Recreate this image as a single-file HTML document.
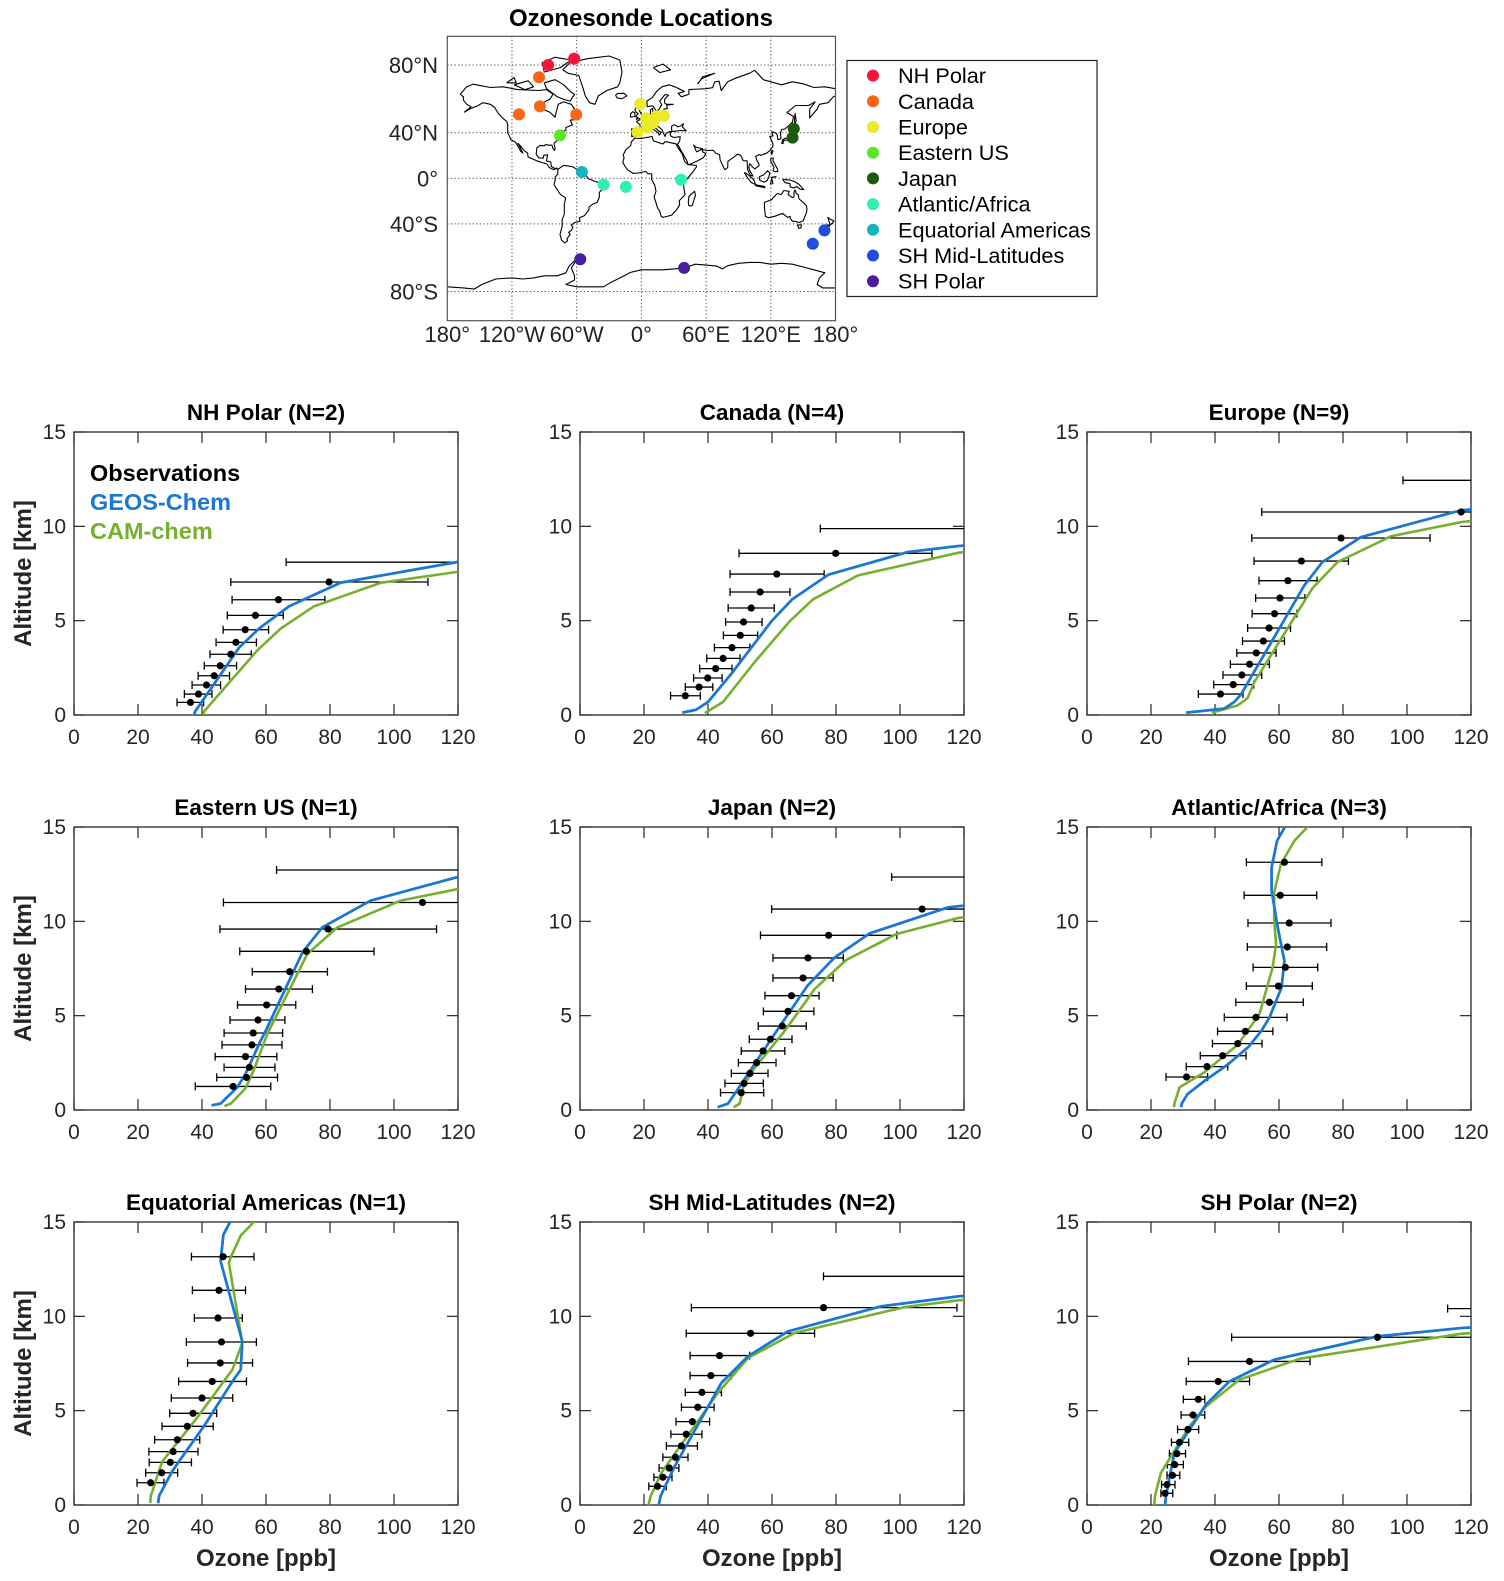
<!DOCTYPE html>
<html><head><meta charset="utf-8">
<style>
html,body{margin:0;padding:0;background:#fff;}
svg{display:block;font-family:"Liberation Sans",Arial,sans-serif;}
</style></head>
<body>
<svg id="fig" width="1504" height="1581" viewBox="0 0 1504 1581" xmlns="http://www.w3.org/2000/svg"></svg>
<script>
// ===== Map data =====
const regionNames = ["NH Polar","Canada","Europe","Eastern US","Japan","Atlantic/Africa","Equatorial Americas","SH Mid-Latitudes","SH Polar"];
const regionColors = ["#f5143c","#fa6414","#eaea28","#5ae628","#1c5a0c","#2cf0b4","#14b4be","#1e4ee0","#461ea0"];
const stationRegion = [0,0,1,1,1,1,2,2,2,2,2,2,2,2,2,3,4,4,5,5,5,6,7,7,8,8];
const stationLon = [-86.5,-62.3,-94.9,-113.5,-94.1,-60.4,-1.2,-3.6,4.4,6.9,11.0,14.1,20.9,5.7,9.0,-75.5,141.3,140.1,-35.0,-14.4,36.8,-55.2,158.9,169.7,-56.7,39.6];
const stationLat = [80.0,82.5,74.7,53.5,58.7,53.3,60.1,40.5,50.8,46.8,47.8,52.2,52.4,43.9,48.5,37.9,43.1,36.1,-5.8,-7.9,-1.3,5.8,-54.5,-45.0,-64.2,-69.0];
const lonTicks = [-180,-120,-60,0,60,120,180];
const lonTickLabels = ["180°","120°W","60°W","0°","60°E","120°E","180°"];
const latTicks = [80,40,0,-40,-80];
const latTickLabels = ["80°N","40°N","0°","40°S","80°S"];

// ===== Profile data (ozone ppb vs altitude km) =====
const panelTitles = ["NH Polar (N=2)","Canada (N=4)","Europe (N=9)","Eastern US (N=1)","Japan (N=2)","Atlantic/Africa (N=3)","Equatorial Americas (N=1)","SH Mid-Latitudes (N=2)","SH Polar (N=2)"];
const xTicks = [0,20,40,60,80,100,120];
const yTicks = [0,5,10,15];

const nhpObsAlt = [8.1,7.05,6.11,5.28,4.52,3.85,3.22,2.61,2.08,1.59,1.11,0.67];
const nhpObsMean = [130,79.7,63.9,56.7,53.5,50.6,49.0,45.7,43.8,41.4,38.9,36.4];
const nhpObsLo = [66.3,49.0,49.4,47.9,46.6,44.4,42.5,40.7,38.8,36.9,34.5,32.2];
const nhpObsHi = [160,110.6,78.4,65.4,60.8,57.0,55.4,50.8,48.6,45.8,43.1,40.5];
const nhpGeosAlt = [0,0.18,3.57,4.58,5.76,7.01,8.1,9];
const nhpGeosVal = [37.6,37.8,51.6,57.8,67.2,83.3,119.5,160];
const nhpCamAlt = [0,0.18,1.7,3.43,4.58,5.76,7.0,7.58,8.5];
const nhpCamVal = [40.4,40.6,48.4,57.3,64.6,75.0,95.8,119.5,160];

const canObsAlt = [9.88,8.57,7.47,6.52,5.67,4.93,4.22,3.57,3.0,2.46,1.96,1.48,1.02];
const canObsMean = [130,79.9,61.5,56.3,53.5,51.1,50.1,47.5,44.7,42.4,39.9,37.2,32.9];
const canObsLo = [75.1,49.7,46.9,46.9,46.3,45.5,44.8,42.0,39.6,37.4,35.5,32.9,28.3];
const canObsHi = [160,110,76.3,65.6,60.7,56.9,55.5,53.1,50.0,47.5,44.4,41.5,37.6];
const canGeosAlt = [0.12,0.28,0.69,2.19,4.96,6.13,7.44,8.64,8.96,9.5];
const canGeosVal = [32,36.3,40,47.3,59.8,66.3,77.7,102.5,118.3,160];
const canCamAlt = [0.1,0.69,2.81,4.96,6.13,7.4,8.6,9.3];
const canCamVal = [39,44.7,54.6,65.5,72.8,86.9,118.3,160];

const eurObsAlt = [12.44,10.76,9.38,8.16,7.12,6.2,5.37,4.61,3.92,3.29,2.69,2.12,1.61,1.11];
const eurObsMean = [130,116.9,79.4,67.0,62.8,60.3,58.6,56.9,55.1,52.9,50.8,48.4,45.7,41.7];
const eurObsLo = [98.75,54.6,51.5,52.2,53.75,52.7,51.6,50.2,48.6,46.8,44.8,42.5,39.6,34.8];
const eurObsHi = [160,160,107.2,81.7,71.9,68.1,65.6,63.6,61.7,59.1,57.0,54.6,52.1,48.75];
const eurGeosAlt = [0.12,0.34,0.69,1.08,6.87,8.11,9.43,10.85,11.5];
const eurGeosVal = [31,42.9,46.0,48.1,67.9,73.6,85.6,116.9,160];
const eurCamAlt = [0.12,0.51,0.9,1.75,6.73,8.11,9.47,10.23,11];
const eurCamVal = [39,47.1,50.2,52.3,70.5,78.3,95.0,117.1,160];

const eusObsAlt = [12.72,11.0,9.59,8.41,7.33,6.41,5.57,4.77,4.08,3.45,2.83,2.26,1.73,1.25];
const eusObsMean = [130,108.9,79.4,72.6,67.4,64.0,60.2,57.5,56.0,55.6,53.6,54.8,53.9,49.7];
const eusObsLo = [63.3,46.7,45.6,51.8,55.7,53.6,51.1,48.75,46.9,46.25,44.1,46.9,44.6,37.9];
const eusObsHi = [160,160,113.3,93.75,79.2,74.5,69.3,65.9,65.2,65.0,63.4,62.8,63.6,61.5];
const eusGeosAlt = [0.25,0.34,1.2,1.91,3.67,4.2,8.36,9.68,11.1,12.33,13];
const eusGeosVal = [43,45.8,51.0,53.6,58.3,59.9,71.4,77.6,92.7,119.5,160];
const eusCamAlt = [0.2,0.34,1.15,2.17,4.03,8.27,9.68,11.1,11.7,12.5];
const eusCamVal = [47,49.0,53.6,56.3,60.4,72.9,82.3,102.1,119.5,160];

const japObsAlt = [12.35,10.65,9.26,8.06,7.0,6.06,5.23,4.45,3.75,3.13,2.51,1.94,1.41,0.92];
const japObsMean = [130,106.9,77.7,71.25,69.7,66.1,65.0,63.2,59.5,57.2,55.2,53.1,51.25,50.4];
const japObsLo = [97.4,59.9,56.4,60.3,60.3,57.8,57.3,55.7,52.9,50.4,49.5,47.3,45.3,43.9];
const japObsHi = [160,160,99.0,82.3,79.1,74.7,73.1,70.7,66.25,64.0,61.25,58.75,57.3,57.4];
const japGeosAlt = [0.15,0.34,0.85,1.91,4.03,6.59,8.09,9.36,10.74,10.8,11.5];
const japGeosVal = [43,46.25,48.3,52.5,60.8,71.1,79.6,90.5,115.0,118.3,160];
const japCamAlt = [0.15,0.34,1.2,2.0,4.2,6.41,7.95,9.33,10.18,11];
const japCamVal = [48,49.9,51.0,53.5,64.0,73.3,83.2,98.9,118.3,160];

const atlObsAlt = [13.13,11.38,9.91,8.64,7.56,6.57,5.71,4.91,4.17,3.52,2.88,2.3,1.75];
const atlObsMean = [61.7,60.4,63.2,62.6,62.0,59.8,57.0,52.8,49.5,47.1,42.4,37.5,31.1];
const atlObsLo = [49.8,49.1,50.3,50.1,51.9,49.8,46.5,42.9,40.8,39.2,35.4,31.0,24.7];
const atlObsHi = [73.4,71.8,76.25,74.9,72.1,70.4,67.6,62.5,58.1,54.7,49.7,44.0,37.7];
const atlGeosAlt = [0.15,0.34,0.85,1.6,2.4,3.35,4.2,4.9,6.5,7.92,9.68,11.63,12.86,14.27,15.2];
const atlGeosVal = [29.4,29.6,31.45,37.2,43.9,50.5,54.5,57.0,60.8,61.7,59.6,57.7,57.7,59.4,62.5];
const atlCamAlt = [0.15,0.34,1.2,2.0,3.46,5.09,7.56,8.8,10.04,11.54,13.04,14.27,15.2];
const atlCamVal = [27.2,27.3,28.9,36.7,47.1,53.9,58.0,59.1,58.5,58.5,60.6,64.8,70];

const eqaObsAlt = [13.16,11.38,9.91,8.64,7.53,6.55,5.67,4.86,4.17,3.46,2.83,2.26,1.71,1.18];
const eqaObsMean = [46.6,45.3,45.0,46.1,45.7,43.2,40.0,37.2,35.4,32.3,31.0,30.1,27.4,23.96];
const eqaObsLo = [36.7,37.0,37.6,35.1,35.5,32.7,30.4,29.9,27.5,25.2,23.4,23.5,22.4,19.7];
const eqaObsHi = [56.25,53.6,52.6,57.0,55.8,53.9,49.6,44.6,43.5,39.3,38.75,36.7,32.4,28.1];
const eqaGeosAlt = [0.1,0.48,1.78,2.31,4.17,6.55,7.17,8.67,12.92,14.33,15.2];
const eqaGeosVal = [26.3,26.6,30.7,32.8,40.6,49.5,52.1,52.6,45.8,46.7,49.4];
const eqaCamAlt = [0.1,0.48,2.31,4.52,7.17,8.59,12.83,13.1,14.28,15.2];
const eqaCamVal = [23.8,24.0,27.6,38.0,49.5,52.6,48.4,48.9,52.1,57.3];

const shmObsAlt = [12.12,10.46,9.1,7.92,6.86,5.97,5.18,4.42,3.75,3.13,2.53,1.96,1.47,0.99];
const shmObsMean = [130,76.1,53.3,43.6,40.9,38.1,36.8,35.1,33.2,31.7,29.8,27.9,25.9,24.2];
const shmObsLo = [76.1,34.8,33.2,34.4,34.4,32.9,31.7,30.0,28.4,27.0,25.9,24.7,23.1,21.5];
const shmObsHi = [160,117.8,73.3,53.0,47.3,44.2,41.9,40.5,38.1,36.7,33.75,30.9,28.75,27.0];
const shmGeosAlt = [0,0.48,2.05,6.47,7.88,9.2,10.53,11.06,11.6];
const shmGeosVal = [24.6,25.2,29.6,44.2,52.5,65.0,94.2,118.3,160];
const shmCamAlt = [0,0.48,1.7,5.94,7.79,9.12,10.49,10.85,11.4];
const shmCamVal = [21.4,22.1,25.4,43.1,52.5,67.1,101.5,118.3,160];

const shpObsAlt = [10.41,8.89,7.61,6.55,5.6,4.77,4.0,3.32,2.72,2.14,1.57,1.08,0.62];
const shpObsMean = [130,90.8,50.8,41.0,34.8,33.1,31.5,28.9,28.1,27.4,26.7,25.0,24.4];
const shpObsLo = [112.7,45.2,31.7,31.0,30.1,29.4,28.3,26.4,25.75,25.1,25.0,23.3,23.1];
const shpObsHi = [160,160,69.7,50.8,36.8,36.8,34.9,31.8,30.8,30.1,29.0,27.5,26.8];
const shpGeosAlt = [0,0.48,2.76,3.99,5.32,6.55,7.7,8.94,9.38,9.8];
const shpGeosVal = [24.4,24.7,27.3,32.0,37.2,44.5,58.5,90.8,117.1,160];
const shpCamAlt = [0,0.48,1.7,4.17,5.23,6.64,7.75,9.08,9.6];
const shpCamVal = [21.0,21.25,23.1,32.0,37.2,47.6,66.4,117.1,160];

const panelObsAlt = [nhpObsAlt,canObsAlt,eurObsAlt,eusObsAlt,japObsAlt,atlObsAlt,eqaObsAlt,shmObsAlt,shpObsAlt];
const panelObsMean = [nhpObsMean,canObsMean,eurObsMean,eusObsMean,japObsMean,atlObsMean,eqaObsMean,shmObsMean,shpObsMean];
const panelObsLo = [nhpObsLo,canObsLo,eurObsLo,eusObsLo,japObsLo,atlObsLo,eqaObsLo,shmObsLo,shpObsLo];
const panelObsHi = [nhpObsHi,canObsHi,eurObsHi,eusObsHi,japObsHi,atlObsHi,eqaObsHi,shmObsHi,shpObsHi];
const panelGeosAlt = [nhpGeosAlt,canGeosAlt,eurGeosAlt,eusGeosAlt,japGeosAlt,atlGeosAlt,eqaGeosAlt,shmGeosAlt,shpGeosAlt];
const panelGeosVal = [nhpGeosVal,canGeosVal,eurGeosVal,eusGeosVal,japGeosVal,atlGeosVal,eqaGeosVal,shmGeosVal,shpGeosVal];
const panelCamAlt = [nhpCamAlt,canCamAlt,eurCamAlt,eusCamAlt,japCamAlt,atlCamAlt,eqaCamAlt,shmCamAlt,shpCamAlt];
const panelCamVal = [nhpCamVal,canCamVal,eurCamVal,eusCamVal,japCamVal,atlCamVal,eqaCamVal,shmCamVal,shpCamVal];

// ===== Coastlines (simplified lon/lat outlines) =====
const coastlines = [
[[-168,66],[-162,70],[-156,71.3],[-140,69.6],[-128,70],[-115,68.5],[-95,68],[-88,68.5],[-82,66],[-85,63],[-94,60],[-92,57],[-85,55],[-80,51.5],[-79,55],[-77,60],[-72,61.5],[-65,60],[-62,57],[-56,53],[-60,50],[-66,49.5],[-64,46],[-70,44],[-70,41.8],[-74,40.5],[-76,38],[-76,35],[-81,31.5],[-80,27],[-80.5,25.2],[-82,27],[-83,30],[-85,29.7],[-89,30.3],[-90,29.2],[-94,29.6],[-97,27.5],[-97.5,22],[-95,18.6],[-91,18.5],[-90.5,21],[-87,21.5],[-88,16],[-84,15],[-83.5,11],[-80,9],[-77.5,8.5],[-79,9.5],[-81,8],[-85.5,10],[-87.5,13.2],[-92,14.5],[-96,15.7],[-105,19.5],[-105.5,23],[-109,25.5],[-112,29],[-114.5,31.5],[-113,29],[-110,23],[-112,24.5],[-115,29.8],[-117,32.5],[-121,34.5],[-124,40],[-124,46],[-124.7,48.4],[-128,50.5],[-133,54.5],[-136,58],[-140,60],[-147,61],[-152,59],[-158,57.5],[-164,55],[-158,58.5],[-162,60],[-165,62.5],[-165,64.5],[-168,66]],
[[-73,78],[-66,81],[-50,82.5],[-30,83.5],[-20,82],[-18,77],[-20,72],[-22,70],[-32,68],[-40,65],[-43,60],[-48,61],[-52,65],[-54,69],[-58,75.5],[-68,76.5],[-73,78]],
[[-90,72],[-80,73.5],[-72,71],[-65,67],[-62,66],[-66,62],[-72,63],[-78,64.5],[-88,69],[-90,72]],
[[-90,77],[-75,79],[-65,82],[-80,83],[-92,81],[-90,77]],
[[-118,71],[-105,73],[-100,70],[-108,68.5],[-118,71]],
[[-125,72],[-118,74.5],[-116,72],[-125,72]],
[[-77,8.5],[-72,12],[-64,10.7],[-60,8.5],[-52,5],[-50,0],[-44,-2.5],[-35,-5.5],[-35,-9],[-39,-13],[-39,-17.5],[-41,-22],[-45,-23.5],[-48.5,-26],[-48.7,-28.5],[-53,-33.5],[-57.5,-35],[-57,-38],[-62,-39],[-65,-41],[-63.5,-42.5],[-65,-45],[-67.5,-46.5],[-66,-48],[-69,-51],[-68.5,-52.5],[-71,-54],[-74,-52],[-75.5,-48],[-73.5,-42],[-73.5,-37],[-71.5,-32],[-71.5,-24],[-70.3,-18],[-75,-15],[-78,-10.5],[-81,-6],[-80,-2],[-80,1],[-77.5,4],[-77.5,7.3],[-77,8.5]],
[[-6,35.8],[-1,35.3],[10,37],[11,33.5],[20,30.8],[22,32.8],[32,31],[34,27.5],[38,22],[40,15.5],[43.3,12.6],[51,11.8],[51,10.5],[47,5],[42,-1],[39,-5],[39.5,-10],[40.5,-15],[35,-20.5],[35.5,-24],[32.5,-28.5],[28,-33],[20,-34.8],[18.4,-34],[17,-29.5],[15,-27],[11.8,-17],[13.5,-12],[12.2,-6],[9.5,-1],[9.6,4],[6,4.3],[4,6.4],[-2,5],[-7.5,4.5],[-12.5,7.5],[-15,10.8],[-17.2,14.7],[-16,19],[-17,21],[-14.5,26],[-9.8,29.5],[-9.5,32.5],[-6,35.8]],
[[44,-25],[47,-25],[50.2,-15.5],[49.3,-12],[44,-16.5],[43.5,-22],[44,-25]],
[[-9.5,43],[-1.5,43.5],[-1.2,46],[-4.5,48.5],[-1.5,49.7],[2,51],[5,53.3],[8.5,53.8],[8.2,56.5],[10.5,57.5],[10.5,54.5],[14,54],[19.5,54.5],[21,57],[24,57.3],[23.5,59.5],[29.5,60],[23,60],[21.5,61],[21.5,63],[25,65.5],[22,65.8],[17,62],[18.8,59.8],[16.5,57],[14,55.5],[11,58.7],[10,59],[5.5,58.5],[5,62],[10,64],[14,67.5],[19,70],[26,71],[31,70],[40,67.5],[34,66.5],[37,64.5],[44,66],[44,68.5],[54,68.8],[60,69],[66,69.5],[68,72.5],[72,72.8],[74,68],[80,72.5],[86,74],[100,76.5],[105,77.8],[113,73.5],[130,71],[140,72.5],[150,71.5],[160,69.6],[170,70],[180,69],[180,65],[178,64.5],[173,61],[165,60],[163,57],[156,51],[156,57],[161,61.5],[155,59.3],[143,59.3],[135,54.7],[141,52],[140,48],[133,42.8],[130,42.5],[129,40],[129.4,35.2],[126.5,34.4],[126,38],[124.8,39.7],[121,40.8],[122,37.5],[119,37.1],[120.5,34],[122,31],[122,29],[119.5,25.5],[116,22.8],[110.5,21],[109,21.6],[106,20],[106.8,17],[109,13],[109,11.5],[105,8.7],[103,10.5],[100.5,13.5],[99.5,10],[100.5,7],[103.5,2],[101,2.8],[98.5,8],[98,16],[94.5,16.2],[92,21],[89,22],[86.5,20],[80.2,15.5],[80,10],[77.5,8],[76.5,9.5],[73,17],[72.5,21.5],[69,22.8],[66.5,25.5],[61.5,25.2],[57,25.8],[56.4,27],[51,27.8],[48.5,30],[50.3,25.5],[51.5,24],[56,26.5],[56.8,24],[59.8,22.5],[57.5,19],[52,16],[45,12.8],[43,13],[42.5,15.5],[39,21.5],[35,28],[34.5,29.5],[32.5,30],[34.2,31.3],[35.5,33.5],[36,36.8],[30,36.2],[27,37.5],[26.5,40],[29,41],[28,42],[28,45],[30,46],[32.5,45.5],[33.5,44.5],[36.5,45.2],[39,47],[38,44.5],[41.5,41.5],[36,41.7],[31,41.1],[29,41],[26,40.8],[23,39.8],[22,37],[21,38.5],[19.5,41.5],[19,42.5],[15,45],[13.8,45.7],[12.5,44],[16,41.5],[18.5,40.2],[16.5,38],[15.7,40],[12.5,41.8],[10.5,43],[9,44.4],[6,43],[3.5,43.5],[3.2,41.9],[0.5,40.5],[0,38.8],[-0.8,37.6],[-2.1,36.7],[-4.5,36.7],[-6,36.2],[-7,37.2],[-9,37],[-8.8,42],[-9.5,43]],
[[-5,50],[1.5,51.2],[1.7,52.7],[0,53.5],[-1.5,55.5],[-2,57.5],[-4,58.6],[-5,58.5],[-6,56.5],[-5,55],[-3,54],[-4.5,52.8],[-5.2,51.7],[-3.2,51.4],[-5,50]],
[[-6,52],[-6,54.5],[-8,55.3],[-10,54],[-10,51.6],[-6,52]],
[[-24,65.5],[-22,66.4],[-16,66.5],[-13.5,65],[-18,63.4],[-22.5,63.8],[-24,65.5]],
[[130,31],[131.5,31.5],[132,34],[135,34],[137,34.5],[140.5,35.5],[141,38.5],[142,40],[141.5,41.5],[140,40.5],[139.5,38],[137,37],[135.5,35.5],[133,35.5],[131,34.3],[130,31]],
[[140,42],[141.5,42.5],[145.5,43.3],[142,45.5],[140,42]],
[[120.2,22.5],[121,22],[122,25],[121,25.2],[120.2,22.5]],
[[95.3,5.5],[98,4],[104,-1],[106,-5.8],[102,-4],[98.7,0],[95.3,5.5]],
[[109,1],[110,-2],[114,-3.5],[116.5,-2],[118,1],[119,5],[117,7],[115,4.8],[113,3],[110,1.8],[109,1]],
[[105.5,-6.8],[114.5,-8.7],[114,-7.5],[106,-6],[105.5,-6.8]],
[[119.5,-5.5],[120.5,-2],[121,1],[124.9,1.5],[120.5,0.5],[122,-4.5],[120.5,-5.5]],
[[131,-1],[137,-1.5],[141,-2.6],[146,-5.5],[150.5,-10.5],[147,-10],[144,-7.7],[141,-9],[138,-8],[137.8,-5],[133,-4],[131,-1]],
[[120,18.5],[122.2,18.5],[122,16],[124,12.5],[126,9],[126.5,6.5],[124,6],[122,7],[123,10],[121,13.5],[120,16],[120,18.5]],
[[114,-22],[114,-26],[115,-34],[118,-35],[123.5,-33.9],[131,-31.5],[135.5,-34.8],[138,-34],[138,-35.5],[140,-37.8],[144,-38.3],[146,-39],[150,-37.5],[153,-31],[153.5,-28],[153,-25],[150,-22],[146.2,-19],[145.3,-15],[143.5,-14],[142.5,-10.7],[141.5,-13],[141.6,-17],[140,-17.7],[136,-15],[137,-12],[132,-11.3],[129.5,-15],[126,-14],[122,-18],[121,-19.5],[114,-22]],
[[144.6,-40.7],[148.3,-40.9],[148,-43.2],[146,-43.6],[144.6,-40.7]],
[[172.7,-34.5],[174.5,-36],[178.5,-37.7],[176.9,-39.5],[174.6,-41.3],[174.8,-39.9],[172.7,-34.5]],
[[172.7,-40.5],[174.3,-41.7],[171,-44.5],[169,-46.6],[166.5,-46],[168,-44],[172.7,-40.5]],
[[52,71.5],[56,74],[68,76.5],[57,75],[53,72],[52,71.5]],
[[11,79],[17,76.8],[27,78],[20,80.4],[11,79]],
[[142,46],[143.5,49],[142.5,54],[142,51],[142,46]],
[[-180,-78],[-165,-78.5],[-155,-79],[-148,-77],[-135,-74.5],[-120,-74],[-110,-74.5],[-100,-74],[-90,-73],[-78,-73],[-70,-71.5],[-67,-68],[-62,-65],[-57,-63.5],[-60,-64.5],[-65,-69],[-62,-73],[-62,-75],[-70,-77],[-60,-78],[-45,-78],[-35,-78],[-28,-76],[-18,-73.5],[-10,-71.3],[0,-70],[10,-70],[20,-70],[30,-69.5],[40,-69],[50,-67],[60,-67.5],[70,-68],[75,-69.5],[80,-67.8],[90,-66.5],[100,-66],[110,-66],[120,-67],[130,-66.5],[140,-67],[150,-68.5],[160,-70],[170,-71.5],[165,-74],[163,-77],[168,-78.5],[180,-78.5]]
];

const NS = "http://www.w3.org/2000/svg";
const svg = document.getElementById('fig');
function mk(tag, attrs, parent, text){
  const e = document.createElementNS(NS, tag);
  for (const k in attrs) e.setAttribute(k, attrs[k]);
  if (text !== undefined) e.textContent = text;
  (parent || svg).appendChild(e);
  return e;
}

// ===== Map =====
const MAP = {cx:641.4, cy:178.3, k:61.8, left:447.3, right:835.5, top:36.3, bottom:320.7};
function mapX(lon){ return MAP.cx + lon*Math.PI/180*MAP.k; }
function mapY(lat){ const p = lat*Math.PI/180; return MAP.cy - 1.25*Math.log(Math.tan(Math.PI/4+0.4*p))*MAP.k; }

const mapG = mk('g', {});


const mt = mk('text', {x:641, y:26, 'text-anchor':'middle', 'font-size':'24', 'font-weight':'bold', fill:'#000'}, mapG, 'Ozonesonde Locations');


mk('clipPath', {id:'mapclip'}, mapG).appendChild((()=>{const r=document.createElementNS(NS,'rect');r.setAttribute('x',MAP.left);r.setAttribute('y',MAP.top);r.setAttribute('width',MAP.right-MAP.left);r.setAttribute('height',MAP.bottom-MAP.top);return r;})());
lonTicks.slice(1,-1).forEach(l=>{
  const g = mk('line',{x1:mapX(l),x2:mapX(l),y1:MAP.top,y2:MAP.bottom,stroke:'#444','stroke-width':1,'stroke-dasharray':'1.2 2.4'},mapG);
  
  
});
latTicks.forEach(l=>{
  const g = mk('line',{x1:MAP.left,x2:MAP.right,y1:mapY(l),y2:mapY(l),stroke:'#444','stroke-width':1,'stroke-dasharray':'1.2 2.4'},mapG);
  
  
});
const coastG = mk('g',{'clip-path':'url(#mapclip)'},mapG);


coastlines.forEach(poly=>{
  const d = poly.map((p,i)=>(i?'L':'M')+mapX(p[0]).toFixed(1)+','+mapY(p[1]).toFixed(1)).join('');
  const pe = mk('path',{d:d,fill:'none',stroke:'#000','stroke-width':1.1,'stroke-linejoin':'round'},coastG);
  
  
});
const mframe = mk('rect',{x:MAP.left,y:MAP.top,width:MAP.right-MAP.left,height:MAP.bottom-MAP.top,fill:'none',stroke:'#555','stroke-width':1.2},mapG);


stationLon.forEach((lon,i)=>{
  const c = mk('circle',{cx:mapX(lon),cy:mapY(stationLat[i]),r:6,fill:regionColors[stationRegion[i]]},mapG);
  
  
});
lonTicks.forEach((l,i)=>{
  const t = mk('text',{x:mapX(l),y:342,'text-anchor':'middle','font-size':'22',fill:'#222'},mapG,lonTickLabels[i]);
  
  
});
latTicks.forEach((l,i)=>{
  const t = mk('text',{x:438,y:mapY(l)+8,'text-anchor':'end','font-size':'22',fill:'#222'},mapG,latTickLabels[i]);
  
  
});
const lg = mk('g',{},mapG);


mk('rect',{x:847,y:60.5,width:250,height:236,fill:'#fff',stroke:'#222','stroke-width':1.2},lg);
regionNames.forEach((n,i)=>{
  const y = 75.6 + i*25.7;
  const c = mk('circle',{cx:873,cy:y,r:6,fill:regionColors[i]},lg);
  
  
  const t = mk('text',{x:898,y:y+7.5,'font-size':'21.7',fill:'#000'},lg,n);
  
  
});

// ===== Profile panels =====
const colX = [74,580,1087];
const rowY = [432,827,1222];
const PW = 384, PH = 283;
const BLUE = '#1a78d2', GREEN = '#76b02e';

for (let p=0; p<9; p++){
  const x0 = colX[p%3], y0 = rowY[Math.floor(p/3)];
  const xs = v => x0 + v/120*PW;
  const ys = a => y0 + PH - a/15*PH;
  const g = mk('g',{});
  
  
  const cid = 'clip'+p;
  const cp = mk('clipPath',{id:cid},g);
  mk('rect',{x:x0,y:y0,width:PW,height:PH},cp);

  const tt = mk('text',{x:x0+PW/2,y:y0-12,'text-anchor':'middle','font-size':'22.5','font-weight':'bold',fill:'#000'},g,panelTitles[p]);
  
  

  const bx = mk('rect',{x:x0,y:y0,width:PW,height:PH,fill:'none',stroke:'#262626','stroke-width':1.3},g);
  
  
  xTicks.forEach(v=>{
    mk('line',{x1:xs(v),x2:xs(v),y1:y0+PH,y2:y0+PH-11,stroke:'#262626','stroke-width':1.2},g);
    mk('line',{x1:xs(v),x2:xs(v),y1:y0,y2:y0+11,stroke:'#262626','stroke-width':1.2},g);
    const t = mk('text',{x:xs(v),y:y0+PH+29,'text-anchor':'middle','font-size':'21',fill:'#262626'},g,String(v));
    
    
  });
  yTicks.forEach(a=>{
    mk('line',{x1:x0,x2:x0+11,y1:ys(a),y2:ys(a),stroke:'#262626','stroke-width':1.2},g);
    mk('line',{x1:x0+PW,x2:x0+PW-11,y1:ys(a),y2:ys(a),stroke:'#262626','stroke-width':1.2},g);
    const t = mk('text',{x:x0-8,y:ys(a)+7,'text-anchor':'end','font-size':'21',fill:'#262626'},g,String(a));
    
    
  });
  if (p%3===0){
    const cy = y0+PH/2;
    const yl = mk('text',{x:31,y:cy,'text-anchor':'middle','font-size':'24','font-weight':'bold',fill:'#262626',transform:'rotate(-90 31 '+cy+')'},g,'Altitude [km]');
    
    
  }
  if (p>=6){
    const xl = mk('text',{x:x0+PW/2,y:y0+PH+61,'text-anchor':'middle','font-size':'24','font-weight':'bold',fill:'#262626'},g,'Ozone [ppb]');
    
    
  }

  const inner = mk('g',{'clip-path':'url(#'+cid+')'},g);
  const oA = panelObsAlt[p], oM = panelObsMean[p], oL = panelObsLo[p], oH = panelObsHi[p];
  oA.forEach((a,i)=>{
    const y = ys(a);
    const eb = mk('path',{d:'M'+xs(oL[i])+','+y+'H'+xs(oH[i])+'M'+xs(oL[i])+','+(y-4)+'V'+(y+4)+'M'+xs(oH[i])+','+(y-4)+'V'+(y+4),stroke:'#000','stroke-width':1.3,fill:'none'},inner);
    
    
  });
  const gl = mk('polyline',{points:panelGeosAlt[p].map((a,i)=>xs(panelGeosVal[p][i]).toFixed(1)+','+ys(a).toFixed(1)).join(' '),fill:'none',stroke:BLUE,'stroke-width':2.6,'stroke-linejoin':'round'},inner);
  
  
  const cl = mk('polyline',{points:panelCamAlt[p].map((a,i)=>xs(panelCamVal[p][i]).toFixed(1)+','+ys(a).toFixed(1)).join(' '),fill:'none',stroke:GREEN,'stroke-width':2.6,'stroke-linejoin':'round'},inner);
  
  
  const gl2 = mk('polyline',{points:gl.getAttribute('points'),fill:'none',stroke:BLUE,'stroke-width':2.6,'stroke-linejoin':'round'},inner);
  
  
  oA.forEach((a,i)=>{
    const d = mk('circle',{cx:xs(oM[i]),cy:ys(a),r:3.6,fill:'#000'},inner);
    
    
  });

  if (p===0){
    const L = [['Observations','#000'],['GEOS-Chem',BLUE],['CAM-chem',GREEN]];
    L.forEach((e,i)=>{
      const t = mk('text',{x:x0+16,y:y0+49+i*29,'font-size':'23.5','font-weight':'bold',fill:e[1]},g,e[0]);
      
      
    });
  }
}
</script>
</body></html>
